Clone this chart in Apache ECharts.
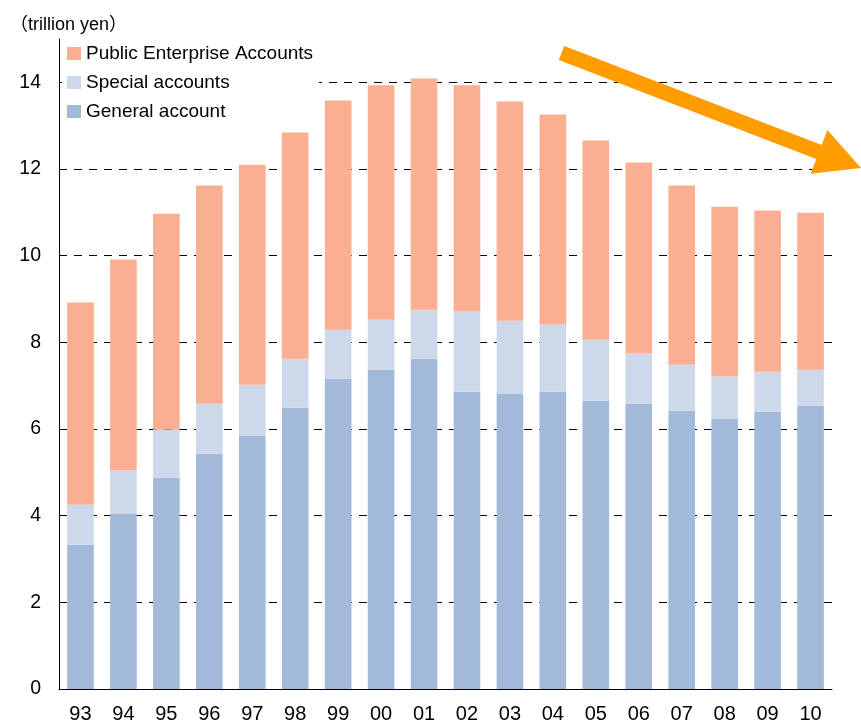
<!DOCTYPE html>
<html>
<head>
<meta charset="utf-8">
<script src="https://cdn.jsdelivr.net/npm/echarts@6/dist/echarts.min.js"></script>
<style>html,body{margin:0;padding:0;background:#fff}#c{width:861px;height:726px}</style>
</head>
<body>
<div id="c"></div>
<script>
const categories = ['93','94','95','96','97','98','99','00','01','02','03','04','05','06','07','08','09','10'];
const generalAccount = [3.33,4.04,4.88,5.43,5.85,6.49,7.16,7.37,7.62,6.86,6.82,6.86,6.65,6.58,6.42,6.24,6.40,6.54];
const specialAccounts = [0.92,1.00,1.10,1.15,1.17,1.13,1.13,1.15,1.13,1.85,1.68,1.55,1.41,1.16,1.06,0.97,0.92,0.83];
const publicEnterprise = [4.67,4.87,4.99,5.04,5.08,5.22,5.29,5.41,5.34,5.22,5.06,4.85,4.60,4.41,4.14,3.92,3.72,3.62];
const yTicks = [0,2,4,6,8,10,12,14];

const FONT = '"Liberation Sans", Arial, "Noto Sans CJK JP", sans-serif';
const chart = echarts.init(document.getElementById('c'), null, {renderer:'canvas'});

// decorative trend arrow (annotation, not a data mark)
const arrowPts = [[564.2,46],[821.7,144.9],[827.4,130.1],[861,168],[810.6,173.7],[816.3,158.9],[558.8,60]];

chart.setOption({
  animation: false,
  backgroundColor: '#fff',
  textStyle: {fontFamily: FONT},
  title: {
    text: '（trillion yen）',
    left: 5, top: 11,
    textStyle: {fontSize: 18, fontWeight: 'normal', color: '#000', fontFamily: FONT}
  },
  legend: {
    orient: 'vertical',
    left: 62, top: 39,
    data: ['Public Enterprise Accounts','Special accounts','General account'],
    itemWidth: 14, itemHeight: 13, itemGap: 10,
    backgroundColor: '#fff',
    padding: [5, 6, 5, 5],
    textStyle: {fontSize: 19, color: '#000', fontFamily: FONT},
    icon: 'rect',
    z: 10
  },
  grid: {left: 59, right: 29, top: 39, bottom: 37, containLabel: false},
  xAxis: {
    type: 'category',
    data: categories,
    axisLine: {show: true, lineStyle: {color: '#000', width: 1}},
    axisTick: {show: false},
    axisLabel: {fontSize: 20, color: '#000', margin: 15, fontFamily: FONT}
  },
  yAxis: {
    type: 'value',
    min: yTicks[0], max: 15, interval: 2,
    axisLine: {show: true, lineStyle: {color: '#000', width: 1}},
    axisTick: {show: false},
    axisLabel: {fontSize: 19.5, color: '#000', margin: 18, showMaxLabel: false, fontFamily: FONT},
    splitLine: {show: true, showMinLine: false, showMaxLine: false, lineStyle: {color: '#000', type: [8, 7], width: 1}}
  },
  series: [
    {name: 'General account', type: 'bar', stack: 'a', data: generalAccount, barWidth: '62%', itemStyle: {color: '#A2B9DA'}},
    {name: 'Special accounts', type: 'bar', stack: 'a', data: specialAccounts, itemStyle: {color: '#CDD9EA'}},
    {name: 'Public Enterprise Accounts', type: 'bar', stack: 'a', data: publicEnterprise, itemStyle: {color: '#FAAF92'}}
  ],
  graphic: [{
    type: 'polygon',
    shape: {points: arrowPts},
    style: {fill: '#FF9C00'},
    z: 100
  }]
});
</script>
</body>
</html>
